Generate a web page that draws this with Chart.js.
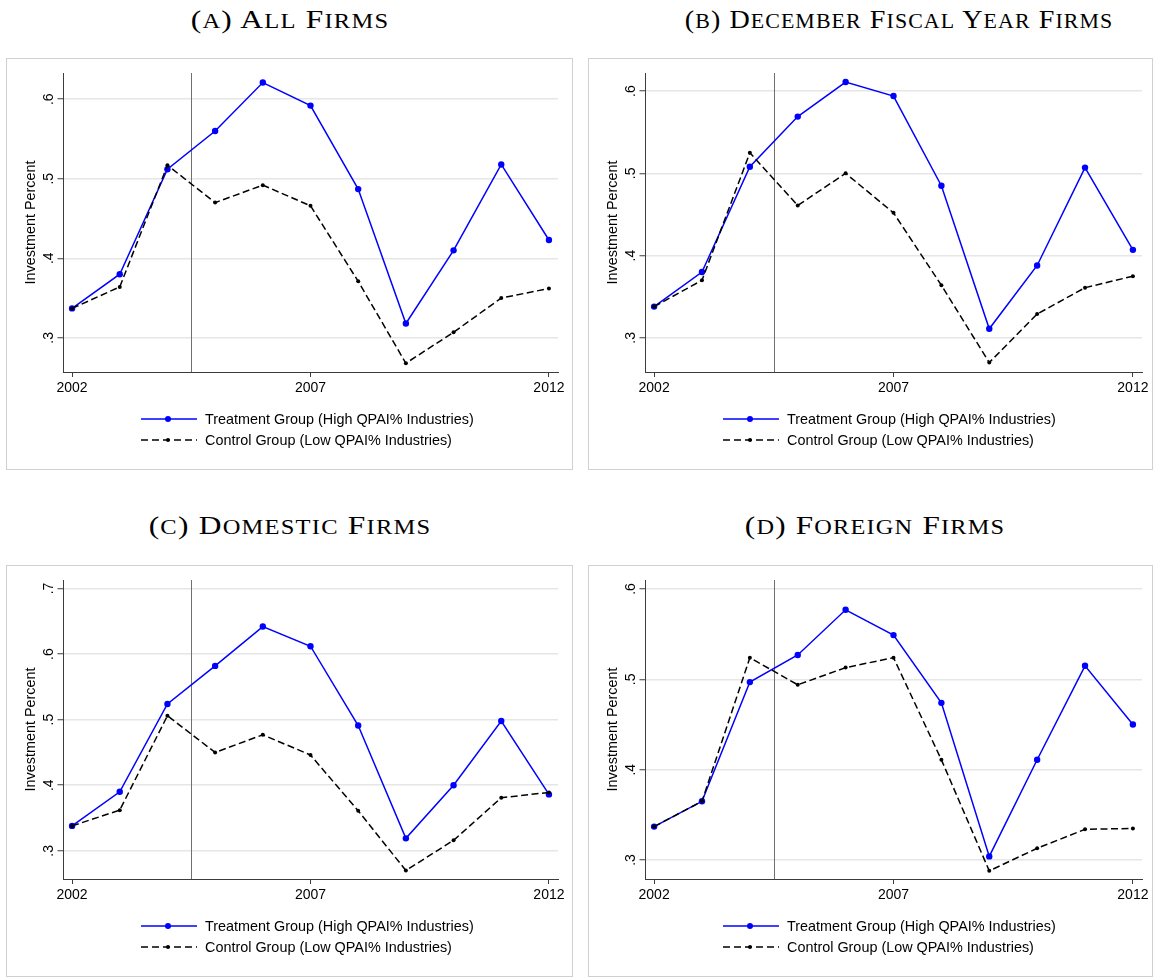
<!DOCTYPE html>
<html>
<head>
<meta charset="utf-8">
<script src="https://cdn.jsdelivr.net/npm/chart.js@4.4.1/dist/chart.umd.min.js"></script>
<style>
  html, body { margin: 0; background: #fff; }
  body { position: relative; width: 1157px; height: 979px; overflow: hidden;
         font-family: "Liberation Sans", Arial, sans-serif; color: #000; }
  .title { position: absolute; white-space: nowrap; transform-origin: 50% 50%;
           font-family: "Liberation Serif", serif; font-size: 26px; line-height: 30px; letter-spacing: 1px; }
  .title .sc { font-size: 0.78em; text-transform: uppercase; }
  .box { position: absolute; border: 1px solid #d0d0d0; box-sizing: border-box; }
  .box canvas { position: absolute; left: -1px; top: -1px; }
  .legend { position: absolute; left: 134px; top: 349px; font-size: 14.4px; }
  .legend .row { display: flex; align-items: center; height: 21.6px; }
  .legend svg { margin-right: 8px; }
</style>
</head>
<body>
<script>
// 데이터: 연도별 투자비율
const years = [2002, 2003, 2004, 2005, 2006, 2007, 2008, 2009, 2010, 2011, 2012];
const xTickYears = [2002, 2007, 2012];
const eventYear = 2004.5;

const treatAll = [0.337, 0.380, 0.512, 0.560, 0.621, 0.592, 0.487, 0.318, 0.410, 0.518, 0.423];
const ctrlAll  = [0.337, 0.364, 0.517, 0.470, 0.492, 0.466, 0.371, 0.268, 0.307, 0.350, 0.362];

const treatDec = [0.338, 0.380, 0.508, 0.569, 0.611, 0.594, 0.485, 0.311, 0.388, 0.507, 0.407];
const ctrlDec  = [0.338, 0.370, 0.525, 0.461, 0.500, 0.452, 0.364, 0.270, 0.329, 0.361, 0.375];

const treatDom = [0.338, 0.390, 0.524, 0.582, 0.642, 0.612, 0.491, 0.319, 0.400, 0.498, 0.386];
const ctrlDom  = [0.338, 0.362, 0.506, 0.450, 0.477, 0.446, 0.361, 0.270, 0.316, 0.381, 0.389];

const treatFor = [0.337, 0.365, 0.497, 0.527, 0.577, 0.549, 0.474, 0.304, 0.411, 0.515, 0.450];
const ctrlFor  = [0.337, 0.365, 0.524, 0.494, 0.513, 0.524, 0.411, 0.288, 0.313, 0.334, 0.335];

const yTicksLow = [0.3, 0.4, 0.5, 0.6];
const yTicksDom = [0.3, 0.4, 0.5, 0.6, 0.7];

const panelTitles = ['(a) All Firms', '(b) December Fiscal Year Firms', '(c) Domestic Firms', '(d) Foreign Firms'];
const treatLabel = 'Treatment Group (High QPAI% Industries)';
const ctrlLabel = 'Control Group (Low QPAI% Industries)';
const yTitle = 'Investment Percent';

// 패널 배치
const panels = [
  { title: panelTitles[0], tx: 290, ty: 20,  sx: 1.21, left: 6,   top: 58,  w: 567, padR: 15, treat: treatAll, ctrl: ctrlAll, yTicks: yTicksLow, yMin: 0.257, yMax: 0.633 },
  { title: panelTitles[1], tx: 899, ty: 20,  sx: 1.08, left: 588, top: 58,  w: 565, padR: 11, treat: treatDec, ctrl: ctrlDec, yTicks: yTicksLow, yMin: 0.2585, yMax: 0.622 },
  { title: panelTitles[2], tx: 290, ty: 526, sx: 1.21, left: 6,   top: 565, w: 567, padR: 15, treat: treatDom, ctrl: ctrlDom, yTicks: yTicksDom, yMin: 0.257, yMax: 0.713 },
  { title: panelTitles[3], tx: 875, ty: 526, sx: 1.20, left: 588, top: 565, w: 565, padR: 11, treat: treatFor, ctrl: ctrlFor, yTicks: yTicksLow, yMin: 0.279, yMax: 0.610 },
];
const BOX_H = 412;
const PLOT_BOTTOM = 314;
const AXIS = '#3c3c3c';
const BLUE = '#0000ff';

function smallCaps(str) {
  return str.replace(/[a-z]+/g, m => `<span class="sc">${m}</span>`);
}

const eventLine = {
  id: 'eventLine',
  beforeDatasetsDraw(chart) {
    const { ctx, chartArea, scales } = chart;
    const x = Math.round(scales.x.getPixelForValue(eventYear)) + 0.5;
    ctx.save();
    ctx.strokeStyle = '#707070';
    ctx.lineWidth = 1;
    ctx.beginPath();
    ctx.moveTo(x, chartArea.top);
    ctx.lineTo(x, chartArea.bottom);
    ctx.stroke();
    ctx.restore();
  },
};

function legendHtml() {
  return `<div class="legend">
    <div class="row"><svg width="56" height="10"><line x1="0" y1="5" x2="56" y2="5" stroke="${BLUE}" stroke-width="1.5"/><circle cx="27" cy="5" r="3" fill="${BLUE}"/></svg><span>${treatLabel}</span></div>
    <div class="row"><svg width="56" height="10"><line x1="0" y1="5" x2="56" y2="5" stroke="#000" stroke-width="1.5" stroke-dasharray="7 4"/><circle cx="27" cy="5" r="2" fill="#000"/></svg><span>${ctrlLabel}</span></div>
  </div>`;
}

panels.forEach(p => {
  const t = document.createElement('div');
  t.className = 'title';
  t.style.left = p.tx + 'px';
  t.style.top = p.ty + 'px';
  t.style.transform = `translate(-50%, -50%) scaleX(${p.sx})`;
  t.innerHTML = smallCaps(p.title);
  document.body.appendChild(t);

  const box = document.createElement('div');
  box.className = 'box';
  Object.assign(box.style, { left: p.left + 'px', top: p.top + 'px', width: p.w + 'px', height: BOX_H + 'px' });
  const canvas = document.createElement('canvas');
  canvas.width = p.w; canvas.height = BOX_H;
  box.appendChild(canvas);
  box.insertAdjacentHTML('beforeend', legendHtml());
  document.body.appendChild(box);

  new Chart(canvas, {
    type: 'line',
    data: {
      datasets: [
        { label: ctrlLabel, data: years.map((x, i) => ({ x, y: p.ctrl[i] })), borderColor: '#000', backgroundColor: '#000',
          borderWidth: 1.5, borderDash: [7, 3.5], pointRadius: 2, pointBorderWidth: 0, tension: 0, order: 0 },
        { label: treatLabel, data: years.map((x, i) => ({ x, y: p.treat[i] })), borderColor: BLUE, backgroundColor: BLUE,
          borderWidth: 1.5, pointRadius: 3.2, pointBorderWidth: 0, tension: 0, order: 1 },
      ],
    },
    options: {
      responsive: false,
      animation: false,
      layout: { padding: { left: 0, top: 15, right: p.padR, bottom: 0 } },
      plugins: { legend: { display: false }, tooltip: { enabled: false } },
      scales: {
        x: {
          type: 'linear', min: 2001.81, max: 2012.19,
          afterBuildTicks: s => { s.ticks = xTickYears.map(v => ({ value: v })); },
          afterFit: s => { s.height = BOX_H - PLOT_BOTTOM; },
          ticks: { color: '#000', font: { size: 14, family: 'Liberation Sans' }, padding: 3, maxRotation: 0, autoSkip: false,
                   callback: v => String(v) },
          grid: { drawOnChartArea: false, tickLength: 5, tickColor: AXIS, tickWidth: 1 },
          border: { color: AXIS, width: 1 },
        },
        y: {
          min: p.yMin, max: p.yMax,
          afterBuildTicks: s => { s.ticks = p.yTicks.map(v => ({ value: v })); },
          afterFit: s => { s.width = 57; },
          ticks: { color: '#000', font: { size: 14, family: 'Liberation Sans' }, padding: 3, minRotation: 90, maxRotation: 90,
                   crossAlign: 'center', callback: v => v.toFixed(1).replace(/^0/, '') },
          grid: { color: '#e6e6e6', lineWidth: 1.5, tickLength: 5.5, tickColor: AXIS, tickWidth: 1 },
          border: { color: AXIS, width: 1 },
          title: { display: true, text: yTitle, color: '#000', font: { size: 14.4, family: 'Liberation Sans' }, padding: { top: 16.4, bottom: 0 } },
        },
      },
    },
    plugins: [eventLine],
  });
});
</script>
</body>
</html>
